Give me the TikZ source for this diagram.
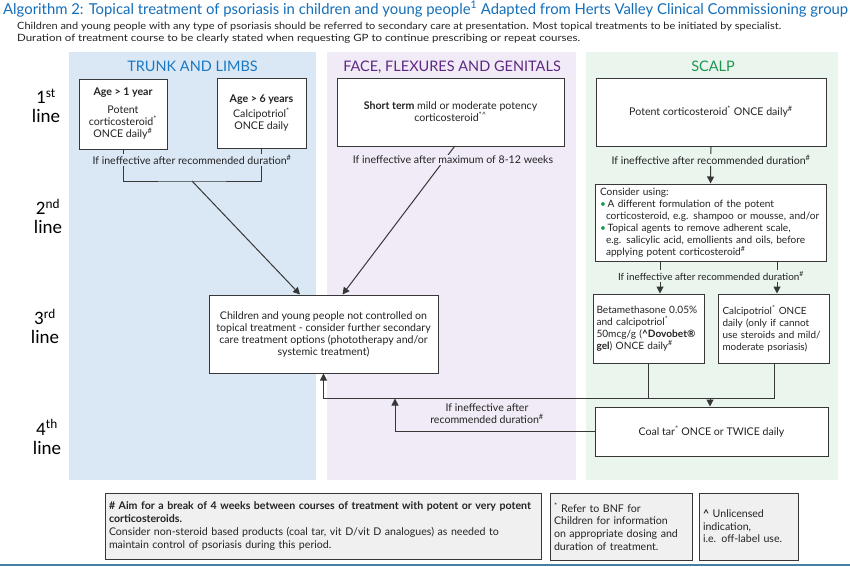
\documentclass[tikz,border=0pt]{standalone}
\usepackage{fontspec}
\setmainfont{Lato}
\newfontfamily\carl{Carlito}
\usetikzlibrary{arrows.meta,calc}
\definecolor{titleblue}{RGB}{20,110,185}
\definecolor{bgblue}{RGB}{218,232,245}
\definecolor{bgpurple}{RGB}{240,235,246}
\definecolor{bggreen}{RGB}{234,245,238}
\definecolor{hdblue}{RGB}{25,120,195}
\definecolor{hdpurple}{RGB}{95,40,130}
\definecolor{hdgreen}{RGB}{30,150,80}
\definecolor{linegray}{RGB}{55,55,55}
\definecolor{noteg}{RGB}{240,240,240}
\definecolor{txt}{RGB}{35,35,35}
\definecolor{rulec}{RGB}{70,125,165}
\newcommand\bodyf{\fontsize{10.6}{12}\selectfont}
\newcommand\smallbodyf{\fontsize{10.1}{12}\selectfont}
\newcommand\notef{\fontsize{10.6}{12.6}\selectfont}
\newcommand\hdf{\fontsize{14.5}{16}\selectfont}
\begin{document}
\begin{tikzpicture}[x=1pt,y=-1pt,
  bx/.style={draw=linegray, fill=white, line width=1pt, inner sep=0pt, align=center, font=\bodyf, text=txt},
  note/.style={draw=linegray, fill=noteg, line width=1pt, inner sep=0pt, inner xsep=4pt, align=left, font=\notef, text=txt},
  hdr/.style={anchor=base, inner sep=0pt, font=\hdf},
  rowl/.style={inner sep=0pt, align=center, font=\carl\fontsize{19}{19}\selectfont, text=black},
  lbl/.style={inner sep=1.5pt, font=\bodyf, text=txt, align=center},
  conn/.style={draw=linegray, line width=1pt},
  arr/.style={conn, -{Triangle[length=7pt,width=7pt]}}]
\fill[white] (0,0) rectangle (850,566);
\useasboundingbox (0,0) rectangle (850,566);
% title
\node[anchor=base west, inner sep=0pt, text=titleblue] (title) at (3,14)
  {\resizebox{845pt}{\height}{\fontsize{15}{16}\selectfont Algorithm 2: Topical treatment of psoriasis in children and young people\textsuperscript{1} Adapted from Herts Valley Clinical Commissioning group}};
\node[anchor=base west, inner sep=0pt, text=txt] (sub1) at (17,29)
  {\resizebox{764pt}{\height}{\fontsize{10}{12}\selectfont Children and young people with any type of psoriasis should be referred to secondary care at presentation. Most topical treatments to be initiated by specialist.}};
\node[anchor=base west, inner sep=0pt, text=txt] (sub2) at (17,41)
  {\resizebox{563pt}{\height}{\fontsize{10}{12}\selectfont Duration of treatment course to be clearly stated when requesting GP to continue prescribing or repeat courses.}};
% columns
\fill[bgblue] (69,52) rectangle (316,480);
\fill[bgpurple] (327,52) rectangle (576,480);
\fill[bggreen] (586,52) rectangle (838,480);
\node[hdr, text=hdblue] (h1) at (192.5,71.5) {TRUNK AND LIMBS};
\node[hdr, text=hdpurple] (h2) at (452,71.5) {FACE, FLEXURES AND GENITALS};
\node[hdr, text=hdgreen] (h3) at (713,71.5) {SCALP};
% row labels
\node[rowl] (r1) at (46,106) {1\textsuperscript{st}\\line};
\node[rowl] (r2) at (48,216.5) {2\textsuperscript{nd}\\line};
\node[rowl] (r3) at (45,326.5) {3\textsuperscript{rd}\\line};
\node[rowl] (r4) at (47,437) {4\textsuperscript{th}\\line};
% boxes
\node[bx, minimum width=88, minimum height=70] (a1) at (123,114)
  {\textbf{Age > 1 year}\\[6pt]Potent\\corticosteroid\textsuperscript{*}\\ONCE daily\textsuperscript{\#}};
\node[bx, minimum width=89, minimum height=70] (a6) at (261.5,113)
  {\textbf{Age > 6 years}\\[3pt]Calcipotriol\textsuperscript{*}\\ONCE daily};
\node[bx, minimum width=227, minimum height=68] (face) at (450.5,112)
  {\textbf{Short term} mild or moderate potency\\corticosteroid\textsuperscript{*\textasciicircum}};
\node[bx, minimum width=230, minimum height=68] (s1) at (711,112)
  {Potent corticosteroid\textsuperscript{*} ONCE daily\textsuperscript{\#}};
\node[bx, font=\smallbodyf, minimum width=231, minimum height=77, text width=221, align=left] (s2) at (710.5,222.5)
  {Consider using:\\
   {\color{hdgreen}\textbullet}\,A different formulation of the potent\\
   \hspace*{6pt}corticosteroid, e.g. shampoo or mousse, and/or\\
   {\color{hdgreen}\textbullet}\,Topical agents to remove adherent scale,\\
   \hspace*{6pt}e.g. salicylic acid, emollients and oils, before\\
   \hspace*{6pt}applying potent corticosteroid\textsuperscript{\#}};
\node[bx, font=\smallbodyf, minimum width=111, minimum height=69, text width=104, align=left] (bet) at (648.5,328.5)
  {Betamethasone 0.05\%\\and calcipotriol\textsuperscript{*}\\50mcg/g (\textbf{\textasciicircum Dovobet®}\\\textbf{gel}) ONCE daily\textsuperscript{\#}};
\node[bx, font=\fontsize{9.9}{12}\selectfont, minimum width=111, minimum height=69, text width=103, align=left] (calc) at (774,328.5)
  {Calcipotriol\textsuperscript{*} ONCE\\daily (only if cannot\\use steroids and mild/\\moderate psoriasis)};
\node[bx, minimum width=229, minimum height=78] (third) at (323.5,334)
  {Children and young people not controlled on\\topical treatment - consider further secondary\\care treatment options (phototherapy and/or\\systemic treatment)};
\node[bx, minimum width=233, minimum height=49] (coal) at (711.5,431.5)
  {Coal tar\textsuperscript{*} ONCE or TWICE daily};
% connectors
\coordinate (tj) at (192,181);
\draw[conn] (a1.south) |- (tj) -| (a6.south);
\draw[arr] (tj) -- ([xshift=-23.5]third.north);
\node[lbl, fill=bgblue] (l1) at (192,160) {If ineffective after recommended duration\textsuperscript{\#}};
\draw[arr] ([xshift=4]face.south) -- ([xshift=19]third.north);
\node[lbl, fill=bgpurple] (l2) at (453,160) {If ineffective after maximum of 8-12 weeks};
\draw[arr] (s1.south) -- (s2.north);
\node[lbl, fill=bggreen] (l3) at (711,160) {If ineffective after recommended duration\textsuperscript{\#}};
\coordinate (bx1) at (660,0);
\coordinate (bx2) at (777,0);
\draw[arr] (s2.south -| bx1) -- (bet.north -| bx1);
\draw[arr] (s2.south -| bx2) -- (calc.north -| bx2);
\node[lbl, font=\fontsize{9.9}{12}\selectfont, fill=bggreen] (l4) at (711,276) {If ineffective after recommended duration\textsuperscript{\#}};
\coordinate (j2) at (710,398);
\draw[conn] (bet.south) |- (j2) -| (calc.south);
\draw[arr] (j2) -- (coal.north -| j2);
\draw[arr] (bet.south |- j2) -| (third.south);
\coordinate (j3) at (395,398.5);
\draw[arr] (coal.west) -| (j3);
\node[lbl] (l5) at (487,414) {If ineffective after\\recommended duration\textsuperscript{\#}};
% notes
\node[note, minimum width=436, minimum height=66, text width=428] (f1) at (323,526)
  {\textbf{\# Aim for a break of 4 weeks between courses of treatment with potent or very potent}\\\textbf{corticosteroids.}\\[1pt]Consider non-steroid based products (coal tar, vit D/vit D analogues) as needed to\\maintain control of psoriasis during this period.};
\node[note, minimum width=142, minimum height=67, text width=134] (f2) at (621,526.5)
  {\textsuperscript{*} Refer to BNF for\\Children for information\\on appropriate dosing and\\duration of treatment.};
\node[note, minimum width=99, minimum height=67, text width=91] (f3) at (748.5,526.5)
  {\textbf{\textasciicircum} Unlicensed\\indication,\\i.e. off-label use.};
\draw[rulec, line width=1.5pt] (0,564.8) -- (850,564.8);
\end{tikzpicture}
\end{document}
